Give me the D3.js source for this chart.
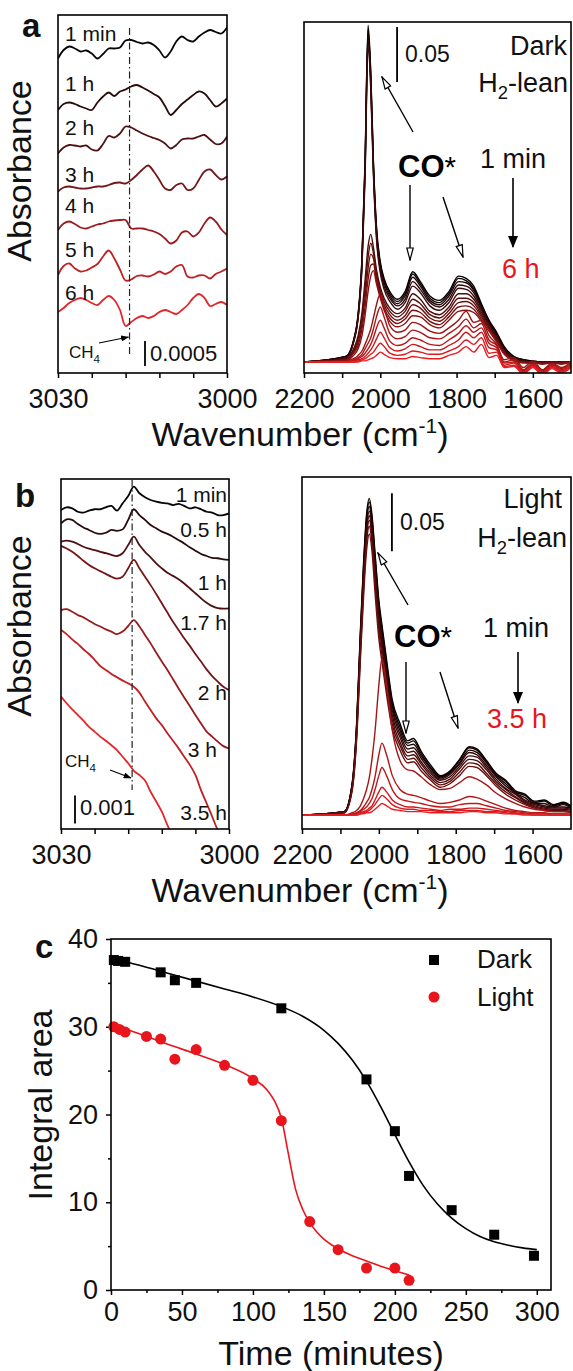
<!DOCTYPE html>
<html>
<head>
<meta charset="utf-8">
<script src="https://cdn.jsdelivr.net/npm/d3@7"></script>
<style>
  body { margin: 0; background: #fff; }
  svg text { font-family: "Liberation Sans", Arial, Helvetica, sans-serif; }
</style>
</head>
<body>
<svg id="fig" width="573" height="1371"></svg>
<script>
// ---------------- data ----------------
// CH4 region (3030–3000 cm-1), offset-stacked spectra
const waveCH = [3030,3029,3028,3027,3026,3025,3024,3023,3022,3021,3020,3019,3018,3017,3016,3015,
                3014,3013,3012,3011,3010,3009,3008,3007,3006,3005,3004,3003,3002,3001,3000];
const ch4Band = 3017.3;

// Dark, H2-lean (absorbance x 1e-5, stacked)
const darkLabels = ["1 min", "1 h", "2 h", "3 h", "4 h", "5 h", "6 h"];
const darkCH_1min = [629,646,653,649,643,645,639,629,638,649,649,651,665,666,662,659,661,656,645,631,643,663,673,666,663,673,681,686,682,679,691];
const darkCH_1h   = [526,538,541,538,533,529,526,541,553,561,554,563,567,573,576,571,565,558,551,534,516,526,538,547,556,563,559,546,533,539,549];
const darkCH_2h   = [439,451,456,455,453,455,447,445,458,474,471,479,493,491,485,479,474,470,466,459,449,456,467,469,469,473,476,467,458,459,473];
const darkCH_3h   = [363,371,373,371,369,369,371,373,373,376,380,381,379,386,396,407,415,403,386,369,366,376,379,366,369,386,403,407,396,387,393];
const darkCH_4h   = [286,299,303,298,291,289,293,297,299,303,305,306,306,289,289,289,286,283,278,269,259,265,281,283,273,281,299,311,303,287,276];
const darkCH_5h   = [196,214,219,209,203,205,211,218,233,245,229,207,185,187,194,195,193,197,203,198,203,213,216,193,191,195,195,189,198,203,209];
const darkCH_6h   = [122,130,140,146,150,146,140,136,146,154,146,126,94,102,110,114,110,114,122,126,122,118,126,136,150,158,150,134,138,142,136];
const darkCHSeries = [darkCH_1min, darkCH_1h, darkCH_2h, darkCH_3h, darkCH_4h, darkCH_5h, darkCH_6h];

// Light, H2-lean (absorbance x 1e-4, stacked)
const lightLabels = ["1 min", "0.5 h", "1 h", "1.7 h", "2 h", "3 h", "3.5 h"];
const lightCH_1min = [113.9,114.9,114.5,113.3,113.0,113.7,114.2,114.2,114.9,115.4,113.7,116.3,118.9,122.3,119.9,118.5,117.5,116.9,116.5,116.3,115.7,116.1,115.4,114.5,114.9,114.2,113.3,113.0,112.1,112.1,112.7];
const lightCH_05h  = [109.2,110.6,110.4,108.9,107.7,106.8,105.8,105.4,105.8,106.8,106.5,107.0,110.4,114.2,112.1,110.4,108.6,107.4,106.2,105.4,104.4,103.2,102.0,100.6,99.4,98.2,97.5,96.8,96.7,96.3,96.1];
const lightCH_1h   = [102.6,103.0,102.6,101.8,100.8,100.1,99.6,99.0,98.5,97.9,97.5,98.5,101.4,104.4,101.4,99.0,97.0,94.9,93.1,91.5,90.4,89.2,87.7,86.0,84.2,82.4,80.8,79.6,78.9,78.7,78.8];
const lightCH_17h  = [101.1,100.2,99.0,97.5,95.8,94.3,93.1,92.1,91.1,90.1,89.4,90.1,93.1,96.1,93.1,90.1,87.1,83.9,80.6,77.3,74.0,71.1,68.1,65.4,62.5,59.8,57.0,54.6,52.6,50.8,49.6];
const lightCH_2h   = [78.2,78.5,77.6,76.4,75.6,74.4,73.2,72.3,71.3,70.5,69.6,70.5,72.5,74.6,72.3,69.3,66.3,63.0,59.8,56.8,53.5,50.2,47.0,43.9,40.7,37.7,34.8,33.0,31.2,29.6,28.8];
const lightCH_3h   = [71.1,69.6,67.7,66.1,64.2,62.5,60.4,58.2,56.8,55.4,54.2,53.0,52.0,50.8,48.7,45.5,42.5,39.5,37.1,34.2,31.5,28.8,25.8,22.9,19.3,13.9,9.2,4.4,-0.4,-3.9,-7.5];
const lightCH_35h  = [47.3,44.9,42.7,40.7,38.7,36.5,34.8,33.0,31.5,29.9,28.2,25.8,23.5,20.8,19.3,17.3,13.3,9.8,6.2,1.4,-2.7,-6.3];
const lightCHSeries = [lightCH_1min, lightCH_05h, lightCH_1h, lightCH_17h, lightCH_2h, lightCH_3h, lightCH_35h];

// CO* region, Dark (mAbs), 1 min (first) to 6 h (last)
const waveCODark = [2200,2090,2070,2058,2048,2040,2032,2025,2018,2010,2000,1990,1975,1955,1935,1915,1895,1870,
                    1845,1820,1795,1775,1755,1735,1715,1695,1675,1650,1625,1600,1575,1550,1525,1500];
const darkCO1  = [0,5,20,44,95,182,306,264,182,123,91,76,64,57,64,82,73,60,56,64,78,76,69,53,38,27,14,5,2,1,0,0,0,0];
const darkCO2  = [0,5,19,43,93,179,302,261,180,121,89,74,62,55,62,80,71,58,54,62,76,74,67,52,37,26,13,5,2,1,0,0,0,0];
const darkCO3  = [0,5,19,42,91,176,298,257,177,118,87,72,60,53,60,77,69,56,52,60,73,72,65,50,36,25,13,4,2,0,0,0,0,0];
const darkCO4  = [0,4,18,41,89,172,293,253,174,115,84,69,58,51,57,73,66,54,50,57,70,69,63,49,35,24,12,4,1,0,0,0,0,0];
const darkCO5  = [0,4,18,40,86,167,287,248,170,112,81,66,55,48,54,69,63,51,47,54,67,66,60,47,34,23,11,4,1,0,0,0,0,0];
const darkCO6  = [0,3,12,24,45,74,105,116,104,84,68,58,49,44,49,62,57,46,43,50,62,62,57,45,33,22,10,3,1,0,0,0,0,0];
const darkCO7  = [0,2,10,21,40,66,95,108,99,80,65,55,46,41,46,57,53,43,40,47,58,58,54,43,32,21,9,3,0,0,-1,0,0,0];
const darkCO8  = [0,2,9,18,35,58,85,98,94,77,62,52,43,38,42,52,49,40,37,44,54,55,51,41,31,20,9,2,0,-1,-1,0,-1,0];
const darkCO9  = [0,2,8,15,30,50,75,88,89,74,60,49,40,35,39,47,45,37,34,41,50,51,48,39,30,19,8,2,0,-1,-1,-1,-1,0];
const darkCO10 = [0,1,6,12,24,42,64,78,83,71,58,47,37,32,35,42,41,34,31,38,46,47,45,37,28,18,7,1,-1,-1,-2,-1,-2,0];
const darkCO11 = [0,1,3,6,10,16,23,30,40,52,62,50,33,27,29,36,34,28,26,31,38,46,36,38,24,16,2,4,-5,1,-7,-1,-5,0];
const darkCO12 = [0,0,2,4,7,12,17,22,30,41,50,41,26,21,23,29,27,22,21,26,32,39,31,35,20,15,0,2,-7,-1,-8,-2,-6,-1];
const darkCO13 = [0,0,1,3,5,8,12,16,22,31,38,31,19,15,17,22,20,16,15,20,26,33,27,31,17,13,-1,0,-8,-2,-9,-3,-7,-2];
const darkCO14 = [0,0,1,2,3,5,8,11,15,21,27,22,13,10,12,16,14,11,11,15,20,27,22,27,13,11,-3,-1,-9,-3,-10,-4,-8,-3];
const darkCO15 = [0,0,0,1,2,3,5,7,9,13,17,14,8,6,7,10,9,7,7,10,14,20,16,22,8,9,-4,-3,-10,-4,-11,-5,-9,-4];
const darkCO16 = [0,0,0,0,1,1,2,3,4,6,9,7,4,3,3,5,4,3,3,6,9,14,9,16,4,6,-5,-4,-11,-5,-12,-6,-10,-5];
const darkCOSeries = [darkCO1,darkCO2,darkCO3,darkCO4,darkCO5,darkCO6,darkCO7,darkCO8,
                      darkCO9,darkCO10,darkCO11,darkCO12,darkCO13,darkCO14,darkCO15,darkCO16];

// CO* region, Light (mAbs), 1 min (first) to 3.5 h (last)
const waveCOLight = [2200,2090,2070,2058,2048,2040,2032,2025,2018,2010,2000,1992,1980,1965,1945,1925,1910,1890,
                     1865,1840,1815,1790,1765,1745,1720,1695,1670,1645,1620,1595,1570,1545,1520,1500];
const lightCO1  = [0,3,26,78,159,216,259,273,259,226,185,164,134,99,79,64,66,55,43,34,38,48,59,57,47,36,30,21,18,12,13,9,11,8];
const lightCO2  = [0,3,25,76,156,213,256,270,256,223,182,161,131,96,76,62,64,53,41,33,37,47,58,56,46,35,29,20,17,11,12,8,10,7];
const lightCO3  = [0,3,25,75,153,209,252,266,252,219,178,157,127,93,73,60,61,51,40,32,36,45,56,54,45,34,27,19,15,10,10,7,9,6];
const lightCO4  = [0,3,24,73,150,205,247,262,248,215,174,153,123,90,70,57,58,49,38,31,35,44,54,52,43,33,25,19,13,10,8,7,7,6];
const lightCO5  = [0,3,23,71,147,202,244,258,244,211,170,149,119,86,67,54,55,46,36,30,33,42,51,50,41,31,23,18,12,9,7,6,6,5];
const lightCO6  = [0,2,22,69,144,198,240,254,240,206,165,144,114,82,63,51,52,44,34,28,31,40,48,47,39,29,22,16,11,8,6,5,5,4];
const lightCO7  = [0,2,21,67,140,194,235,249,235,200,159,138,109,78,60,48,49,41,32,26,29,37,45,44,36,27,20,15,10,7,5,4,4,3];
const lightCO8  = [0,2,20,64,134,187,228,242,228,192,152,132,104,74,56,45,46,38,30,24,27,34,42,41,34,25,18,13,9,6,4,3,3,2];
const lightCO9  = [0,0,2,4,8,14,22,32,48,72,112,135,112,73,47,39,38,33,26,22,23,28,33,31,26,19,14,10,7,5,4,3,3,2];
const lightCO10 = [0,0,1,2,4,7,11,15,22,33,52,62,52,34,22,18,17,15,12,10,11,13,16,15,12,9,6,4,3,2,2,1,1,1];
const lightCO11 = [0,0,0,1,3,5,7,10,14,22,34,41,34,22,14,12,11,10,8,7,7,9,10,10,8,6,4,3,2,1,1,1,1,0];
const lightCO12 = [0,0,0,1,2,3,4,6,8,13,20,24,20,13,9,7,7,6,5,4,5,5,6,6,5,4,3,2,1,1,1,0,0,0];
const lightCO13 = [0,0,0,0,1,2,3,4,6,9,14,17,14,9,6,5,5,4,4,3,3,4,4,4,3,3,2,1,1,0,0,0,0,0];
const lightCO14 = [0,0,0,0,1,1,2,2,3,5,8,10,8,5,4,3,3,3,2,2,2,2,3,3,2,2,1,1,0,0,0,0,0,0];
const lightCOSeries = [lightCO1,lightCO2,lightCO3,lightCO4,lightCO5,lightCO6,lightCO7,
                       lightCO8,lightCO9,lightCO10,lightCO11,lightCO12,lightCO13,lightCO14];

// Panel c: integral area vs time
const cDarkTime  = [2, 5, 10, 35, 45, 60, 120, 180, 200, 210, 240, 270, 298];
const cDarkArea  = [37.6, 37.5, 37.4, 36.2, 35.3, 35.0, 32.1, 24.0, 18.1, 13.0, 9.1, 6.3, 3.9];
const cLightTime = [2, 6, 10, 25, 35, 45, 60, 80, 100, 120, 140, 160, 180, 200, 210];
const cLightArea = [30.0, 29.7, 29.4, 28.9, 28.6, 26.3, 27.4, 25.6, 23.9, 19.3, 7.8, 4.6, 2.5, 2.5, 1.1];
const fitDarkTime  = [0,20,40,60,80,100,120,135,150,160,170,180,190,200,210,220,230,240,250,260,270,280,290,300];
const fitDarkArea  = [37.8,37.0,36.1,35.2,34.3,33.4,32.3,31.2,29.6,28.1,26.2,23.8,20.9,17.7,14.6,11.9,9.8,8.2,7.0,6.1,5.5,5.1,4.8,4.6];
const fitLightTime = [0,20,40,60,80,100,110,115,120,125,130,135,140,145,150,160,170,180,190,200,210];
const fitLightArea = [30.3,29.2,28.0,26.9,25.7,24.1,22.8,21.6,19.6,15.5,11.5,9.2,7.7,6.6,5.8,4.7,3.9,3.3,2.7,2.2,1.7];

// tick values
const chTicks = [3030, 3024, 3018, 3012, 3006, 3000];
const chTickLabels = [3030, 3000];
const coTicks = [2200, 2100, 2000, 1900, 1800, 1700, 1600];
const coTickLabels = [2200, 2000, 1800, 1600];
const timeTicks = [0, 50, 100, 150, 200, 250, 300];
const timeMinor = [25, 75, 125, 175, 225, 275];
const areaTicks = [0, 10, 20, 30, 40];
const areaMinor = [5, 15, 25, 35];

// ---------------- drawing ----------------
const svg = d3.select("#fig");
const RED = "#e8161c";
const defs = svg.append("defs");

defs.append("marker").attr("id", "openHead")
  .attr("viewBox", "0 0 14 8").attr("refX", 13).attr("refY", 4)
  .attr("markerWidth", 14).attr("markerHeight", 8)
  .attr("markerUnits", "userSpaceOnUse").attr("orient", "auto")
  .append("path").attr("d", "M1,0.8 L13,4 L1,7.2 Z")
  .attr("fill", "#fff").attr("stroke", "#000").attr("stroke-width", 1.2);
defs.append("marker").attr("id", "solidHead")
  .attr("viewBox", "0 0 12 10").attr("refX", 11).attr("refY", 5)
  .attr("markerWidth", 12).attr("markerHeight", 10)
  .attr("markerUnits", "userSpaceOnUse").attr("orient", "auto")
  .append("path").attr("d", "M0,0 L12,5 L0,10 Z").attr("fill", "#000");
defs.append("marker").attr("id", "tinyHead")
  .attr("viewBox", "0 0 8 6").attr("refX", 7.5).attr("refY", 3)
  .attr("markerWidth", 8).attr("markerHeight", 6)
  .attr("markerUnits", "userSpaceOnUse").attr("orient", "auto")
  .append("path").attr("d", "M0,0 L8,3 L0,6 Z").attr("fill", "#000");

function clip(id, b) {
  defs.append("clipPath").attr("id", id).append("rect")
    .attr("x", b.x0).attr("y", b.y0).attr("width", b.x1 - b.x0).attr("height", b.y1 - b.y0);
}
function frame(b) {
  svg.append("rect").attr("x", b.x0).attr("y", b.y0)
    .attr("width", b.x1 - b.x0).attr("height", b.y1 - b.y0)
    .attr("fill", "none").attr("stroke", "#000").attr("stroke-width", 1.6);
}
function bottomAxis(x, y0, ticks, labelled, size) {
  const g = svg.append("g").attr("transform", `translate(0,${y0})`)
    .call(d3.axisBottom(x).tickValues(ticks).tickSize(5).tickPadding(11)
      .tickFormat(d => labelled.includes(d) ? d : ""));
  g.select(".domain").remove();
  g.selectAll("line").attr("stroke", "#000").attr("stroke-width", 1.5);
  g.selectAll("text").attr("font-size", size).attr("fill", "#111")
    .style("font-family", '"Liberation Sans", Arial, sans-serif');
  return g;
}
function label(x, y, txt, size, opts = {}) {
  return svg.append("text").attr("x", x).attr("y", y).text(txt)
    .attr("font-size", size).attr("fill", opts.fill || "#111")
    .attr("font-weight", opts.weight || "normal")
    .attr("text-anchor", opts.anchor || "start");
}
function arrow(x1, y1, x2, y2, head, w = 1.4) {
  svg.append("line").attr("x1", x1).attr("y1", y1).attr("x2", x2).attr("y2", y2)
    .attr("stroke", "#000").attr("stroke-width", w).attr("marker-end", `url(#${head})`);
}
function h2lean(xEnd, y, size) {
  const t = svg.append("text").attr("x", xEnd).attr("y", y).attr("text-anchor", "end")
    .attr("font-size", size).attr("fill", "#111");
  t.append("tspan").text("H");
  t.append("tspan").text("2").attr("font-size", size * 0.68).attr("dy", size * 0.26);
  t.append("tspan").text("-lean").attr("dy", -size * 0.26);
}
function ch4(x, y, size) {
  const t = svg.append("text").attr("x", x).attr("y", y).attr("font-size", size).attr("fill", "#111");
  t.append("tspan").text("CH");
  t.append("tspan").text("4").attr("font-size", size * 0.68).attr("dy", size * 0.3);
}
function coStar(x, y, size) {
  const t = svg.append("text").attr("x", x).attr("y", y).attr("font-size", size).attr("fill", "#000");
  t.append("tspan").text("CO").attr("font-weight", "bold");
  t.append("tspan").text("*").attr("font-size", size * 0.95);
}
function wavenumberTitle(cx, y) {
  const t = svg.append("text").attr("x", cx).attr("y", y).attr("text-anchor", "middle")
    .attr("font-size", 34).attr("fill", "#111");
  t.append("tspan").text("Wavenumber (cm");
  t.append("tspan").text("-1").attr("font-size", 21).attr("dy", -13);
  t.append("tspan").text(")").attr("dy", 13);
}
function absTitle(cx, cy) {
  svg.append("text").attr("transform", `translate(${cx},${cy}) rotate(-90)`)
    .attr("text-anchor", "middle").attr("font-size", 34).attr("fill", "#111").text("Absorbance");
}
function drawSpectra(x, y, waves, series, colorOf, clipId, width, curve) {
  const line = d3.line().x(d => x(d[0])).y(d => y(d[1])).curve(curve);
  const g = svg.append("g").attr("clip-path", `url(#${clipId})`);
  series.forEach((vals, i) => {
    const pts = vals.map((v, j) => [waves[j], v]);
    g.append("path").attr("d", line(pts)).attr("fill", "none")
      .attr("stroke", colorOf(i)).attr("stroke-width", width).attr("stroke-linejoin", "round");
  });
}

// ===== Panel a =====
const aL = { x0: 58, x1: 227, y0: 15, y1: 373 };
const aR = { x0: 304, x1: 571, y0: 22, y1: 373 };
clip("clipAL", aL); clip("clipAR", aR);
const aLx = d3.scaleLinear([3030, 3000], [aL.x0, aL.x1]);
const aLy = d3.scaleLinear([0, 716], [aL.y1, aL.y0]);
const aRx = d3.scaleLinear([2200, 1500], [aR.x0, aR.x1]);
const aRy = d3.scaleLinear([-10, 309], [aR.y1, aR.y0]);

const stackColor7 = i => d3.interpolateRgb("#050505", "#e2262a")(i / 6);
drawSpectra(aLx, aLy, waveCH, darkCHSeries, stackColor7, "clipAL", 1.8, d3.curveCatmullRom);

// CH4 band marker
svg.append("line").attr("x1", aLx(ch4Band)).attr("x2", aLx(ch4Band))
  .attr("y1", aL.y0 + 13).attr("y2", aL.y1 - 16)
  .attr("stroke", "#222").attr("stroke-width", 1.2).attr("stroke-dasharray", "7,3,1.5,3");

const darkLabelY = [41, 91, 135, 182, 213, 257, 300];
darkLabels.forEach((t, i) => label(65, darkLabelY[i], t, 21));
ch4(69, 358, 17);
arrow(99, 343, aLx(ch4Band) - 1, 337, "tinyHead", 1.1);
// 0.0005 scale bar
svg.append("line").attr("x1", 145).attr("x2", 145)
  .attr("y1", aLy(14)).attr("y2", aLy(14 + 50)).attr("stroke", "#000").attr("stroke-width", 1.8);
label(150, 361, "0.0005", 22);

const colorDark = d3.scaleLinear().domain([0, 4, 9, 15])
  .range(["#000000", "#3b0a0a", "#8a1212", "#ea1c20"]).interpolate(d3.interpolateRgb);
drawSpectra(aRx, aRy, waveCODark, darkCOSeries, colorDark, "clipAR", 1.4, d3.curveMonotoneX);

frame(aL); frame(aR);
bottomAxis(aLx, aL.y1, chTicks, chTickLabels, 27);
bottomAxis(aRx, aR.y1, coTicks, coTickLabels, 27);
wavenumberTitle(300, 446);
absTitle(31, 171);
label(22, 37, "a", 33, { weight: "bold" });

// annotations (Dark)
svg.append("line").attr("x1", aRx(1956)).attr("x2", aRx(1956))
  .attr("y1", aRy(254.5)).attr("y2", aRy(254.5 + 50)).attr("stroke", "#000").attr("stroke-width", 1.8);
label(405, 62, "0.05", 23);
label(567, 55, "Dark", 27, { anchor: "end" });
h2lean(568, 92, 27);
coStar(398, 177, 31);
label(480, 168, "1 min", 27);
label(502, 278, "6 h", 27, { fill: RED });
arrow(413, 132, 382, 77, "openHead");
arrow(410, 185, 410, 260, "openHead");
arrow(443, 197, 463, 257, "openHead");
arrow(513, 178, 513, 247, "solidHead", 1.6);

// ===== Panel b =====
const bL = { x0: 61, x1: 229, y0: 479, y1: 829 };
const bR = { x0: 302, x1: 571, y0: 477, y1: 829 };
clip("clipBL", bL); clip("clipBR", bR);
const bLx = d3.scaleLinear([3030, 3000], [bL.x0, bL.x1]);
const bLy = d3.scaleLinear([0, 125], [bL.y1, bL.y0]);
const bRx = d3.scaleLinear([2200, 1500], [bR.x0, bR.x1]);
const bRy = d3.scaleLinear([-12, 291.4], [bR.y1, bR.y0]);

drawSpectra(bLx, bLy, waveCH, lightCHSeries, stackColor7, "clipBL", 1.8, d3.curveCatmullRom);
svg.append("line").attr("x1", bLx(ch4Band)).attr("x2", bLx(ch4Band))
  .attr("y1", bL.y0 + 1).attr("y2", 790)
  .attr("stroke", "#222").attr("stroke-width", 1.2).attr("stroke-dasharray", "7,3,1.5,3");

const lightLabelX = [227, 227, 227, 227, 227, 217, 227];
const lightLabelY = [502, 537, 590, 630, 700, 757, 820];
lightLabels.forEach((t, i) => label(lightLabelX[i], lightLabelY[i], t, 21, { anchor: "end" }));
ch4(65, 767, 17);
arrow(110, 770, bLx(ch4Band) - 1, 778, "tinyHead", 1.1);
svg.append("line").attr("x1", 75).attr("x2", 75)
  .attr("y1", bLy(2)).attr("y2", bLy(2 + 10)).attr("stroke", "#000").attr("stroke-width", 1.8);
label(80, 815, "0.001", 22);

const colorLight = d3.scaleLinear().domain([0, 7, 8, 13])
  .range(["#000000", "#6a0e0e", "#a51515", "#ea1c20"]).interpolate(d3.interpolateRgb);
drawSpectra(bRx, bRy, waveCOLight, lightCOSeries, colorLight, "clipBR", 1.4, d3.curveMonotoneX);

frame(bL); frame(bR);
bottomAxis(bLx, bL.y1, chTicks, chTickLabels, 27);
bottomAxis(bRx, bR.y1, coTicks, coTickLabels, 27);
wavenumberTitle(300, 902);
absTitle(31, 626);
label(15, 507, "b", 33, { weight: "bold" });

svg.append("line").attr("x1", bRx(1966)).attr("x2", bRx(1966))
  .attr("y1", bRy(227.5)).attr("y2", bRy(227.5 + 50)).attr("stroke", "#000").attr("stroke-width", 1.8);
label(400, 530, "0.05", 23);
label(562, 508, "Light", 27, { anchor: "end" });
h2lean(567, 547, 27);
coStar(394, 647, 31);
label(483, 637, "1 min", 27);
label(487, 728, "3.5 h", 27, { fill: RED });
arrow(408, 605, 378, 553, "openHead");
arrow(406, 662, 406, 733, "openHead");
arrow(440, 672, 458, 728, "openHead");
arrow(518, 652, 518, 703, "solidHead", 1.6);

// ===== Panel c =====
const cB = { x0: 111, x1: 551, y0: 939, y1: 1290 };
const xC = d3.scaleLinear([0, 310], [cB.x0, cB.x1]);
const yC = d3.scaleLinear([0, 40], [cB.y1, cB.y0]);

function styleAxis(g, size) {
  g.select(".domain").remove();
  g.selectAll("line").attr("stroke", "#000").attr("stroke-width", 1.5);
  g.selectAll("text").attr("font-size", size).attr("fill", "#111")
    .style("font-family", '"Liberation Sans", Arial, sans-serif');
}
styleAxis(svg.append("g").attr("transform", `translate(0,${cB.y1})`)
  .call(d3.axisBottom(xC).tickValues(timeTicks).tickSize(5).tickPadding(7)), 27);
styleAxis(svg.append("g").attr("transform", `translate(0,${cB.y1})`)
  .call(d3.axisBottom(xC).tickValues(timeMinor).tickSize(3).tickFormat("")), 27);
styleAxis(svg.append("g").attr("transform", `translate(${cB.x0},0)`)
  .call(d3.axisLeft(yC).tickValues(areaTicks).tickSize(5).tickPadding(8)), 27);
styleAxis(svg.append("g").attr("transform", `translate(${cB.x0},0)`)
  .call(d3.axisLeft(yC).tickValues(areaMinor).tickSize(3).tickFormat("")), 27);

const fitLine = d3.line().x(d => xC(d[0])).y(d => yC(d[1])).curve(d3.curveMonotoneX);
svg.append("path").attr("d", fitLine(fitDarkTime.map((t, i) => [t, fitDarkArea[i]])))
  .attr("fill", "none").attr("stroke", "#000").attr("stroke-width", 1.6);
svg.append("path").attr("d", fitLine(fitLightTime.map((t, i) => [t, fitLightArea[i]])))
  .attr("fill", "none").attr("stroke", RED).attr("stroke-width", 1.6);

svg.append("g").selectAll("rect").data(cDarkTime.map((t, i) => [t, cDarkArea[i]])).join("rect")
  .attr("x", d => xC(d[0]) - 5).attr("y", d => yC(d[1]) - 5)
  .attr("width", 10).attr("height", 10).attr("fill", "#000");
svg.append("g").selectAll("circle").data(cLightTime.map((t, i) => [t, cLightArea[i]])).join("circle")
  .attr("cx", d => xC(d[0])).attr("cy", d => yC(d[1])).attr("r", 5.5).attr("fill", RED);

frame(cB);
// legend
svg.append("rect").attr("x", 429).attr("y", 955).attr("width", 10).attr("height", 10).attr("fill", "#000");
label(477, 968, "Dark", 26);
svg.append("circle").attr("cx", 434).attr("cy", 997).attr("r", 5.5).attr("fill", RED);
label(477, 1006, "Light", 26);

label(35, 958, "c", 33, { weight: "bold" });
svg.append("text").attr("transform", "translate(52,1105) rotate(-90)")
  .attr("text-anchor", "middle").attr("font-size", 34).attr("fill", "#111").text("Integral area");
label(xC(155), 1365, "Time (minutes)", 34, { anchor: "middle" });
</script>
</body>
</html>
